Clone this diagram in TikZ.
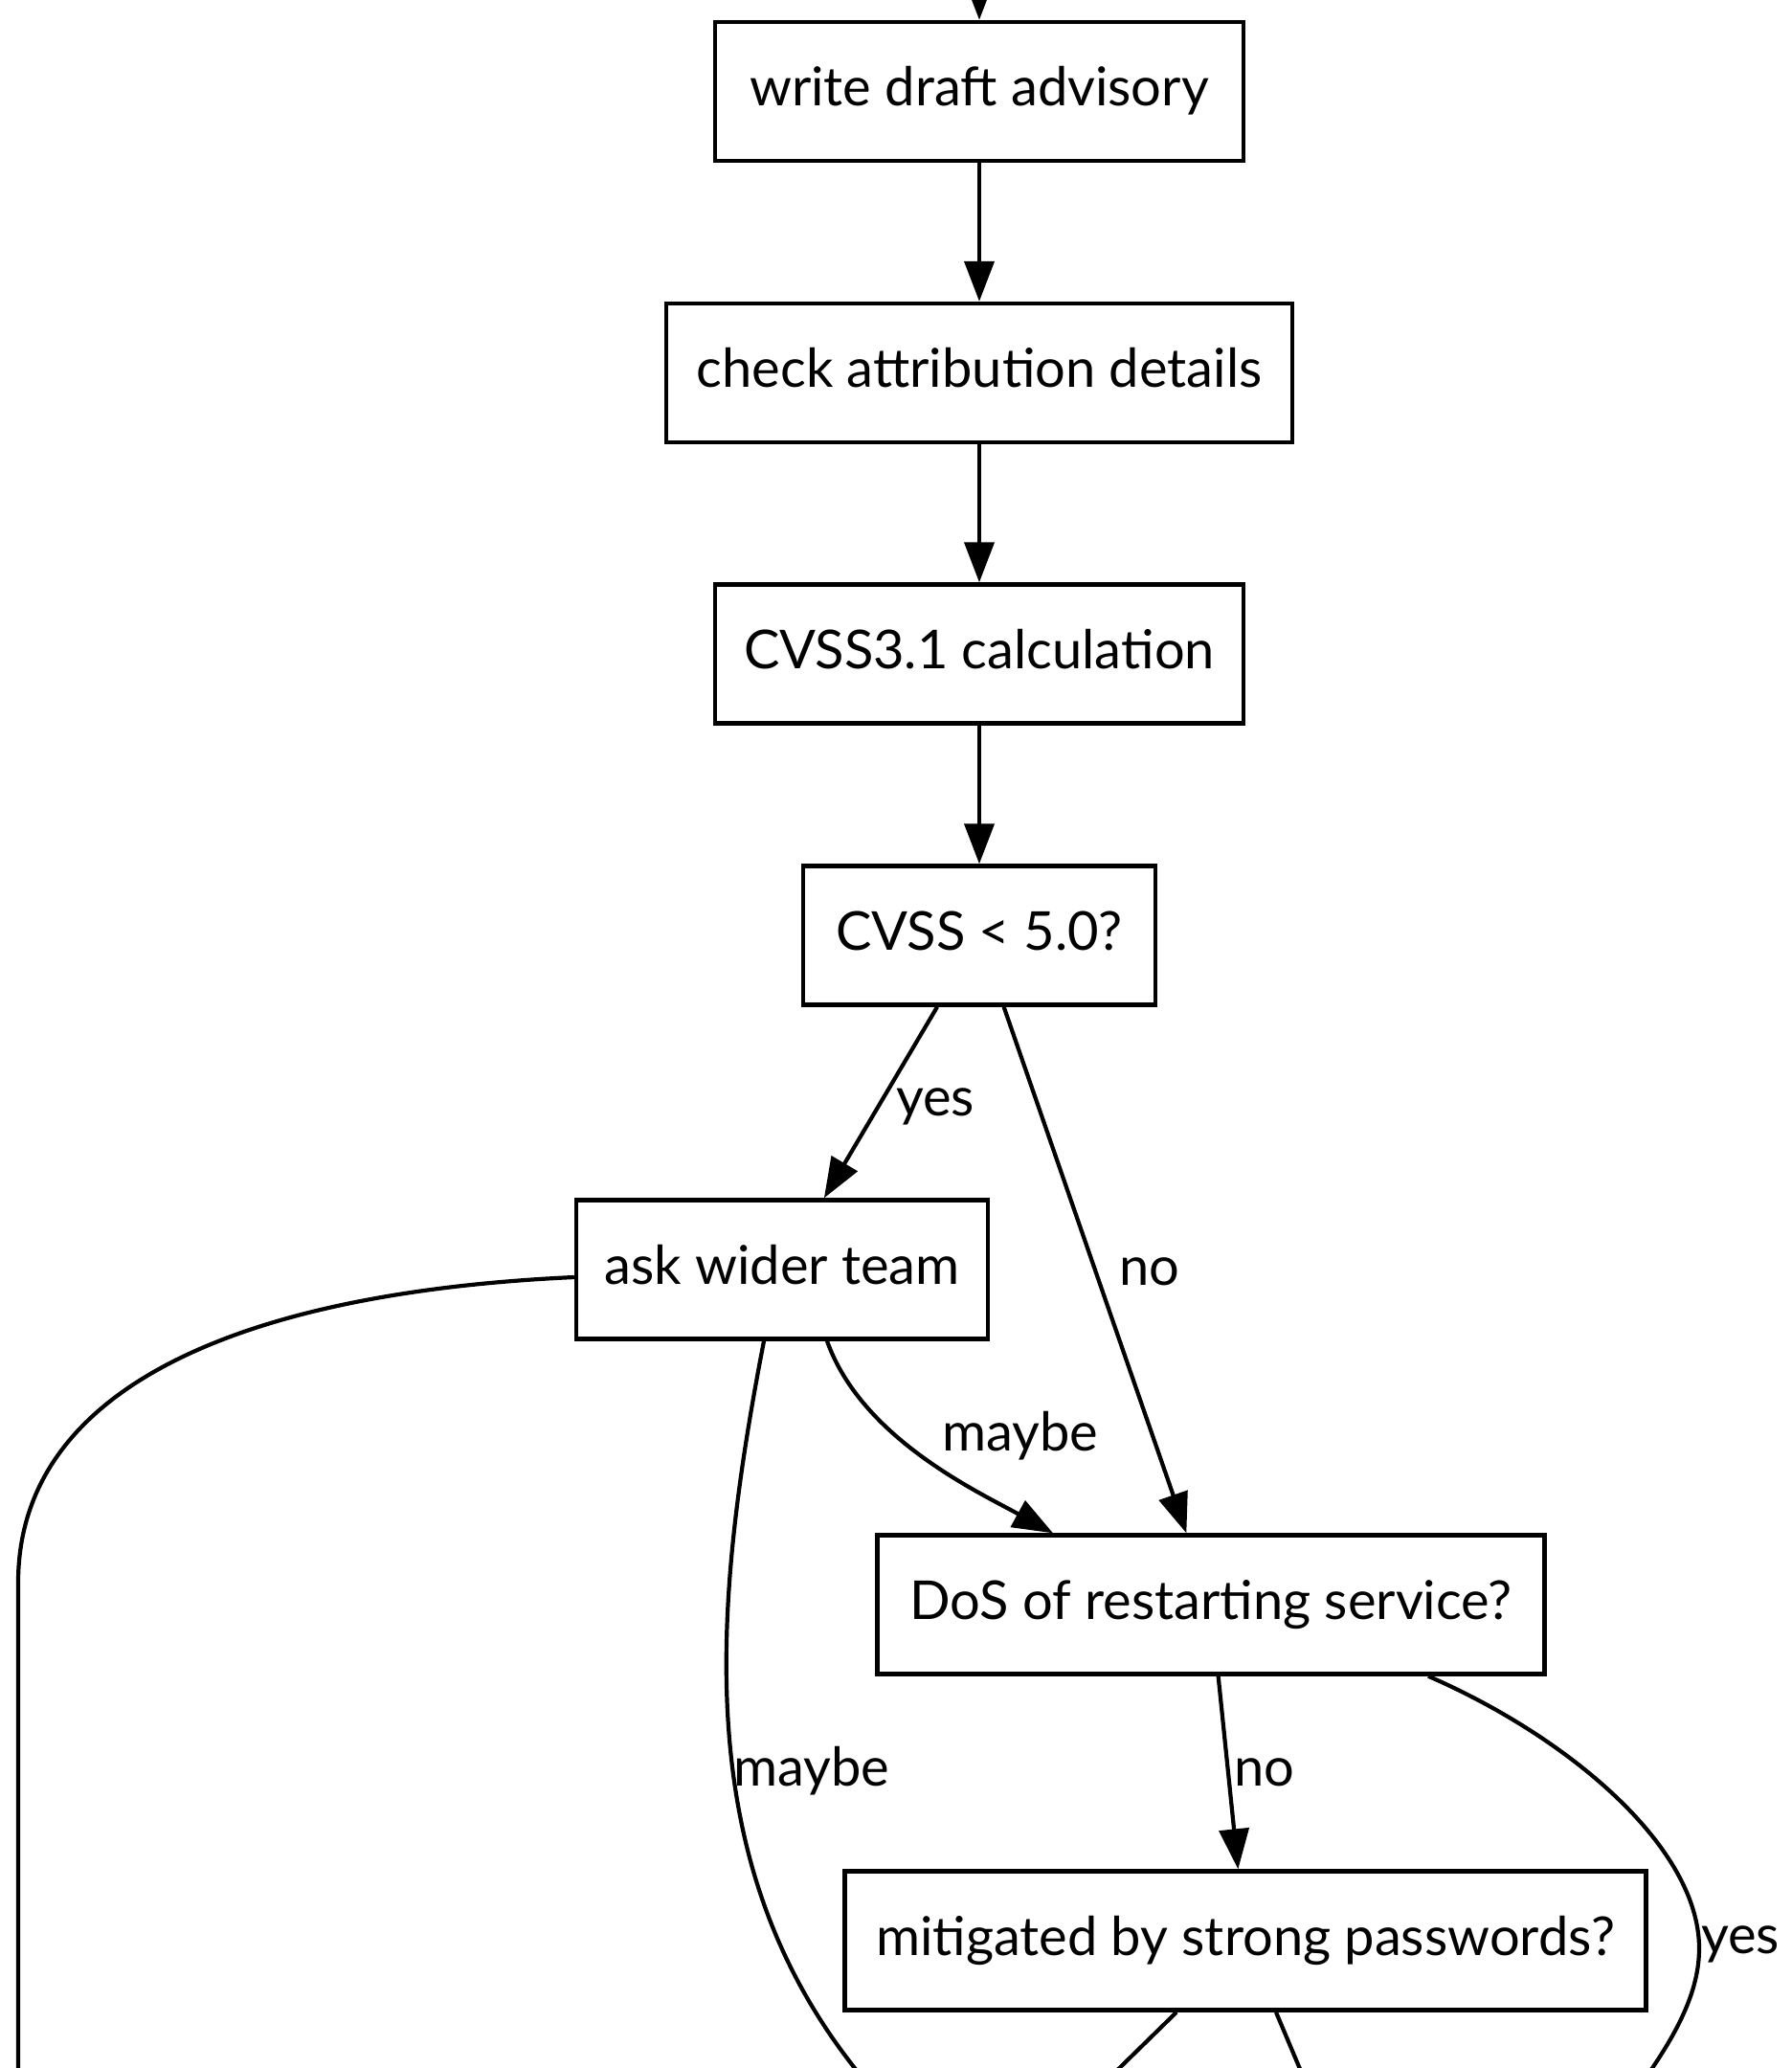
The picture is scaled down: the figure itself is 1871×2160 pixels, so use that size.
\documentclass[tikz,border=0pt]{standalone}
\usepackage{fontspec}
\setmainfont{Lato}
\usetikzlibrary{arrows.meta}
\begin{document}
\begin{tikzpicture}[x=1pt,y=-1pt,
  box/.style={draw, line width=4.4pt, inner sep=0pt, minimum height=145pt,
    text height=42pt, text depth=12pt, font=\fontsize{56}{67}\selectfont},
  edge/.style={line width=4.2pt, -{Triangle[length=42pt,width=31pt]}},
  plain/.style={line width=4.2pt},
  lbl/.style={anchor=base west, inner sep=0pt, font=\fontsize{56}{67}\selectfont}]
\useasboundingbox (0,0) rectangle (1871,2160);
\clip (0,0) rectangle (1871,2160);

% process steps
\node[box, minimum width=552pt] (b1) at (1023,95.5) {write draft advisory};
\node[box, minimum width=654pt] (b2) at (1023,389.5) {check attribution details};
\node[box, minimum width=552pt] (b3) at (1023,683) {CVSS3.1 calculation};
\node[box, minimum width=368pt] (b4) at (1023,977) {CVSS < 5.0?};
\node[box, minimum width=430pt] (b5) at (817,1326) {ask wider team};
\node[box, minimum width=697pt] (b6) at (1265,1676) {DoS of restarting service?};
\node[box, minimum width=837pt] (b7) at (1301,2027) {mitigated by strong passwords?};

% loose ends continuing past the page edges
\coordinate (top) at (1023,-20);
\coordinate (lbend) at (19,1653);
\coordinate (l1) at (19,2200);
\coordinate (m1) at (905,2175);
\coordinate (ybend) at (1775,2035);
\coordinate (y1) at (1712,2180);
\coordinate (m2) at (1149,2180);
\coordinate (m3) at (1366,2180);

% straight flow
\draw[edge] (top) -- (b1);
\draw[edge] (b1) -- (b2);
\draw[edge] (b2) -- (b3);
\draw[edge] (b3) -- (b4);
\draw[edge] (b4) -- (b5);
\draw[edge] (b4) -- (b6);
\draw[edge] (b6) -- (b7);

% curved branches
\draw[edge] ([xshift=47pt]b5.south) .. controls +(36,101) and +(-80,-44) .. ([xshift=-165pt]b6.north);
\draw[plain] ([xshift=-19pt]b5.south) .. controls (740,1700) and (725,1960) .. (m1);
\draw[plain] ([yshift=-8pt]b5.west) .. controls (250,1350) and (19,1450) .. (lbend) -- (l1);
\draw[plain] ([xshift=227pt]b6.south) .. controls (1640,1815) and (1775,1930) .. (ybend)
  .. controls (1775,2080) and (1752,2125) .. (y1);
\draw[plain] ([xshift=-72pt]b7.south) -- (m2);
\draw[plain] ([xshift=32pt]b7.south) -- (m3);

% edge labels
\node[lbl] (lyes1) at (936,1165) {yes};
\node[lbl] (lno1) at (1169,1342) {no};
\node[lbl] (lmay1) at (984,1515) {maybe};
\node[lbl] (lmay2) at (766,1865) {maybe};
\node[lbl] (lno2) at (1289,1865) {no};
\node[lbl] (lyes2) at (1777,2040) {yes};
\end{tikzpicture}
\end{document}
